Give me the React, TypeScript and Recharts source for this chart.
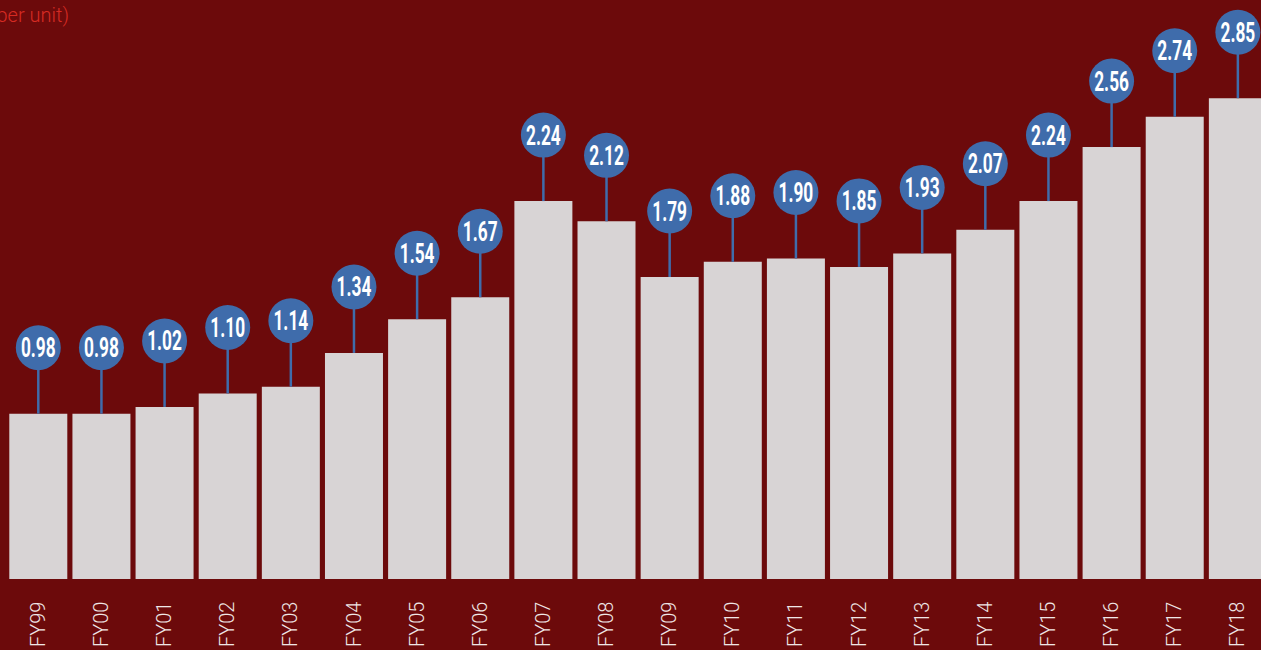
import React from 'react';
import { BarChart, Bar, XAxis, YAxis, LabelList } from 'recharts';

const years = ['FY99', 'FY00', 'FY01', 'FY02', 'FY03', 'FY04', 'FY05', 'FY06', 'FY07', 'FY08',
    'FY09', 'FY10', 'FY11', 'FY12', 'FY13', 'FY14', 'FY15', 'FY16', 'FY17', 'FY18'];
const values = [0.98, 0.98, 1.02, 1.10, 1.14, 1.34, 1.54, 1.67, 2.24, 2.12,
    1.79, 1.88, 1.90, 1.85, 1.93, 2.07, 2.24, 2.56, 2.74, 2.85];

const data = years.map((year, i) => ({ year, value: values[i] }));

const bgColor = '#6c0a0b';
const barColor = '#d8d4d5';
const pinColor = '#3f6cab';

const PinLabel = (props: any) => {
    const { x, y, width, value } = props;
    const cx = x + width / 2;
    const cy = y - 66;
    return (
        <g>
            <line x1={cx} y1={y} x2={cx} y2={cy} stroke={pinColor} strokeWidth={2.5} />
            <circle cx={cx} cy={cy} r={22.5} fill={pinColor} />
            <text
                x={cx}
                y={cy + 9.5}
                textAnchor="middle"
                fill="#ffffff"
                fontFamily="Roboto"
                fontWeight={700}
                fontSize={27}
                transform={`translate(${cx} 0) scale(0.64 1) translate(${-cx} 0)`}
            >
                {Number(value).toFixed(2)}
            </text>
        </g>
    );
};

const YearTick = (props: any) => {
    const { x, y, payload } = props;
    return (
        <text
            x={x + 7}
            y={y + 68}
            transform={`rotate(-90 ${x + 7} ${y + 68})`}
            textAnchor="start"
            fill="#efe6e6"
            fontFamily="Roboto"
            fontWeight={300}
            fontSize={20}
        >
            {payload.value}
        </text>
    );
};

const App: React.FC = () => {
    return (
        <div style={{ position: 'fixed', left: 0, top: 0, width: 1261, height: 650, overflow: 'hidden', background: bgColor }}>
            <svg width={1261} height={650} style={{ position: 'absolute', left: 0, top: 0 }}>
                <text x={69} y={22} textAnchor="end" fill="#d62b23" fontFamily="Roboto" fontWeight={300} fontSize={20}>
                    (per unit)
                </text>
            </svg>
            <div style={{ position: 'absolute', left: 0, top: 0 }}>
                <BarChart
                    width={1269}
                    height={650}
                    data={data}
                    margin={{ top: 5.4, right: 0, left: 6.3, bottom: 0 }}
                    barSize={58}
                >
                    <XAxis
                        dataKey="year"
                        axisLine={false}
                        tickLine={false}
                        tickSize={0}
                        tickMargin={0}
                        height={71}
                        interval={0}
                        tick={<YearTick />}
                    />
                    <YAxis hide domain={[0, 3.4]} />
                    <Bar dataKey="value" fill={barColor} isAnimationActive={false}>
                        <LabelList dataKey="value" content={<PinLabel />} />
                    </Bar>
                </BarChart>
            </div>
        </div>
    );
};

export default App;
